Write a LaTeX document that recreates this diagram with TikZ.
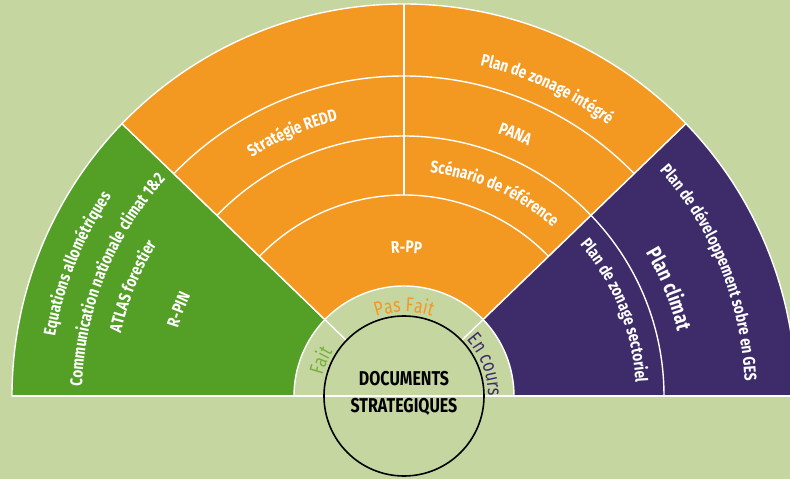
\documentclass[tikz,border=0pt]{standalone}
\usepackage{fontspec}
\newfontfamily\docfont{Fira Sans}[FakeStretch=0.8]
\usetikzlibrary{decorations.text}
\definecolor{fond}{RGB}{198,214,161}
\definecolor{vert}{RGB}{84,160,38}
\definecolor{orange}{RGB}{243,153,33}
\definecolor{violet}{RGB}{61,44,105}
\definecolor{vertclair}{RGB}{118,178,58}
\newcommand{\lbl}{\docfont\bfseries\fontsize{17}{19}\selectfont}
\newcommand{\lblbig}{\docfont\bfseries\fontsize{21}{24}\selectfont}
\newcommand{\etat}{\docfont\fontsize{20}{22}\selectfont}
\newcommand{\arclabel}[5][white]{%
	\path[decorate, decoration={text along path, text align=center, text color=#1,
			text={|#4|#5}}]
		({#3+50}:#2pt) arc[start angle={#3+50}, end angle={#3-50}, radius=#2pt];}
\tikzset{
	secteur/.style={fill=#1, draw=white, line width=1.4pt, line join=round},
	trait/.style={draw=white, line width=1.4pt}
}

\begin{document}
\begin{tikzpicture}[x=1pt, y=1pt]
	\fill[fond] (-404,-83) rectangle (386,396);
	\useasboundingbox (-404,-83) rectangle (386,396);

	\path[secteur=vert] (136:110pt) -- (136:392pt) arc[start angle=136, end angle=180, radius=392pt]
		-- (180:110pt) arc[start angle=180, end angle=136, radius=110pt] -- cycle;
	\path[secteur=orange] (44:110pt) -- (44:392pt) arc[start angle=44, end angle=136, radius=392pt]
		-- (136:110pt) arc[start angle=136, end angle=44, radius=110pt] -- cycle;
	\path[secteur=violet] (0:110pt) -- (0:392pt) arc[start angle=0, end angle=44, radius=392pt]
		-- (44:110pt) arc[start angle=44, end angle=0, radius=110pt] -- cycle;

	\draw[trait] (44:201pt) arc[start angle=44, end angle=136, radius=201pt];
	\draw[trait] (0:260pt) arc[start angle=0, end angle=136, radius=260pt];
	\draw[trait] (44:320pt) arc[start angle=44, end angle=136, radius=320pt];
	\draw[trait] (90:201pt) -- (90:392pt);
	\draw[trait] (136:80pt) -- (136:110pt);
	\draw[trait] (44:80pt) -- (44:110pt);
	\draw[trait] (-392,0) -- (400,0);

	\draw[black, line width=1.6pt] (0,0) circle[radius=80pt];
	\node[font=\docfont\bfseries\fontsize{20}{27}\selectfont, align=center] (docs) at (0,3)
		{DOCUMENTS\\STRATEGIQUES};

	\arclabel[vertclair]{84}{157}{\etat}{Fait}
	\arclabel[orange]{84}{90}{\etat}{Pas Fait}
	\arclabel[violet]{84}{21}{\etat}{En cours}

	\arclabel{354}{158}{\lbl}{Equations allométriques}
	\arclabel{322}{158}{\lbl}{Communication nationale climat 1{\&}2}
	\arclabel{290}{158}{\lbl}{ATLAS forestier}
	\arclabel{236}{159}{\lbl}{R-PIN}

	\arclabel{283}{113}{\lbl}{Stratégie REDD}
	\arclabel{339}{65}{\lbl}{Plan de zonage intégré}
	\arclabel{279}{67}{\lbl}{PANA}
	\arclabel{225}{66}{\lbl}{Scénario de référence}
	\arclabel{143}{89}{\lbl}{R-PP}

	\arclabel{232}{22}{\lbl}{Plan de zonage sectoriel}
	\arclabel{281}{22}{\lblbig}{Plan climat}
	\arclabel{341}{22}{\lbl}{Plan de développement sobre en GES}
\end{tikzpicture}
\end{document}
